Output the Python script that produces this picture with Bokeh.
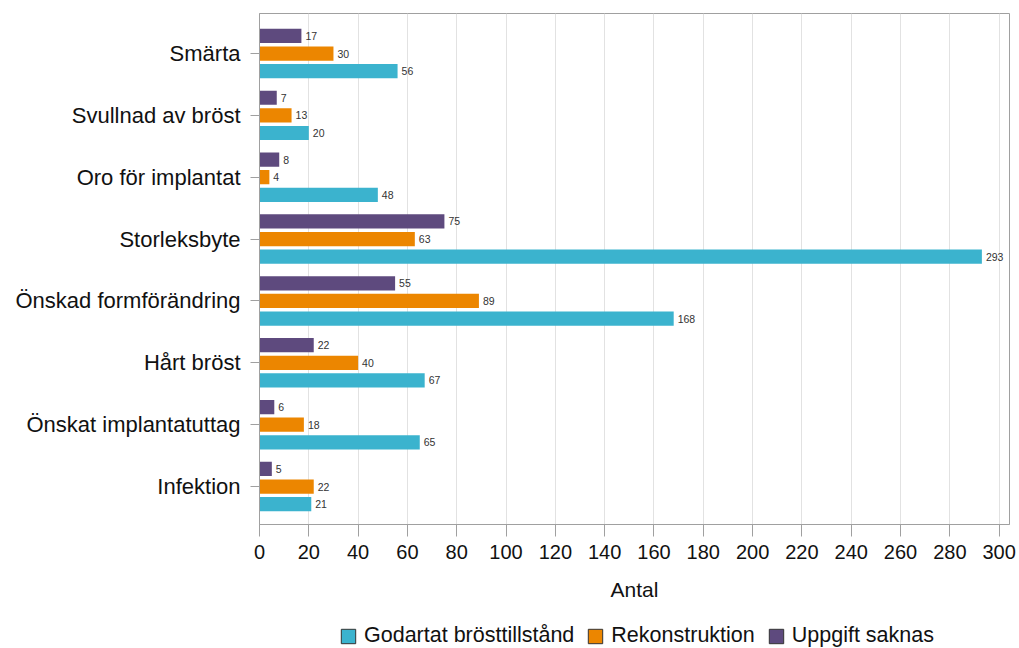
import numpy as np
from bokeh.plotting import figure
from bokeh.layouts import column
from bokeh.models import (Range1d, FixedTicker, Legend, LegendItem, ColumnDataSource,
                          LabelSet)
from bokeh.core.properties import value
from bokeh.embed import file_html
from bokeh.resources import INLINE

# Orsaker till implantatbyte, antal per indikation
categories = ["Smärta", "Svullnad av bröst", "Oro för implantat", "Storleksbyte",
              "Önskad formförändring", "Hårt bröst", "Önskat implantatuttag", "Infektion"]
godartat = [56, 20, 48, 293, 168, 67, 65, 21]
rekonstruktion = [30, 13, 4, 63, 89, 40, 18, 22]
uppgift_saknas = [17, 7, 8, 75, 55, 22, 6, 5]
series_names = ["Godartat brösttillstånd", "Rekonstruktion", "Uppgift saknas"]
x_ticks = list(range(0, 301, 20))

colors = ["#3BB3CE", "#EC8600", "#5E4A7E"]
FONT = "Liberation Sans"

p = figure(frame_width=750, frame_height=511, output_backend="svg", toolbar_location=None,
           x_range=Range1d(0, 304.2), y_range=Range1d(7.614, -0.647),
           min_border_left=259, min_border_right=10, min_border_top=13,
           min_border_bottom=86)

idx = np.arange(len(categories))
offsets = [0.285, 0.0, -0.285]
series_vals = [godartat, rekonstruktion, uppgift_saknas]
bar_h = 0.23

for vals, off, col in zip(series_vals, offsets, colors):
    src = ColumnDataSource(dict(y=idx + off, right=vals, lab=[str(v) for v in vals]))
    p.hbar(y="y", left=0, right="right", height=bar_h, source=src,
           fill_color=col, line_color=None)
    p.add_layout(LabelSet(x="right", y="y", text="lab", source=src, x_offset=4,
                          text_baseline="middle", text_font=value(FONT),
                          text_font_size="10.5px", text_color="#333333"))

# axes
p.xaxis.ticker = FixedTicker(ticks=x_ticks)
p.xaxis.axis_label = "Antal"
p.xaxis.axis_label_text_font = FONT
p.xaxis.axis_label_text_font_style = "normal"
p.xaxis.axis_label_text_font_size = "21px"
p.xaxis.axis_label_text_color = "#111111"
p.xaxis.axis_label_standoff = 16
p.xaxis.major_label_text_font = FONT
p.xaxis.major_label_text_font_size = "20px"
p.xaxis.major_label_text_color = "#111111"
p.xaxis.major_label_standoff = 8
p.xaxis.major_tick_out = 12
p.xaxis.major_tick_in = 0
p.xaxis.minor_tick_line_color = None

p.yaxis.ticker = FixedTicker(ticks=list(idx))
p.yaxis.major_label_overrides = {int(i): c for i, c in zip(idx, categories)}
p.yaxis.major_label_text_font = FONT
p.yaxis.major_label_text_font_size = "22px"
p.yaxis.major_label_text_color = "#111111"
p.yaxis.major_label_standoff = 10
p.yaxis.major_tick_out = 9
p.yaxis.major_tick_in = 0
p.yaxis.minor_tick_line_color = None

for ax in (p.xaxis, p.yaxis):
    ax.axis_line_color = "#A0A0A0"
    ax.major_tick_line_color = "#A0A0A0"

p.xgrid.ticker = FixedTicker(ticks=x_ticks)
p.xgrid.grid_line_color = "#E2E2E2"
p.ygrid.grid_line_color = None
p.outline_line_color = "#A0A0A0"
p.outline_line_width = 1

# legend strip below the chart
leg = figure(width=1019, height=38, output_backend="svg", toolbar_location=None,
             x_range=Range1d(0, 1), y_range=Range1d(0, 1),
             min_border_left=0, min_border_right=0, min_border_top=0, min_border_bottom=0)
leg.axis.visible = False
leg.grid.visible = False
leg.outline_line_color = None

swatches = []
for col in colors:
    # swatch renderer kept outside the visible range; only its legend glyph shows
    swatches.append(leg.hbar(y=[-10], left=[0], right=[1], height=0.5, fill_color=col,
                             line_color="#333333", line_width=1))

legend = Legend(items=[LegendItem(label=n, renderers=[r]) for n, r in zip(series_names, swatches)],
                orientation="horizontal", location=(80, 0),
                label_text_font=FONT, label_text_font_size="21.5px", label_text_color="#111111",
                glyph_width=18, glyph_height=18, label_standoff=7, spacing=12,
                border_line_color=None, background_fill_alpha=0, padding=2, margin=0)
leg.add_layout(legend, "center")

layout = column(p, leg, spacing=0)
open("out.html", "w").write(file_html(layout, INLINE))
